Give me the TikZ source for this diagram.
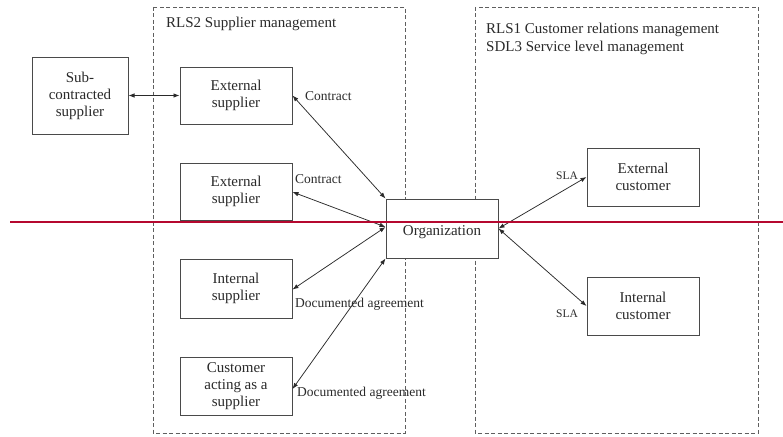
\documentclass[tikz,border=0pt]{standalone}
\usepackage{fontspec}
\setmainfont{Liberation Serif}
\usetikzlibrary{arrows.meta}
\definecolor{ink}{HTML}{2A2A2A}
\definecolor{redline}{HTML}{B5082F}
\begin{document}
\begin{tikzpicture}[x=1pt,y=-1pt,
  box/.style={draw=ink!85, line width=1pt, fill=white, text=ink, align=center, inner sep=0pt,
    font=\fontsize{15}{17}\selectfont},
  grp/.style={draw=ink!75, dashed, dash pattern=on 4pt off 2.5pt, line width=0.9pt},
  lbl/.style={text=ink, inner sep=0pt, font=\fontsize{13.5}{15}\selectfont},
  ttl/.style={text=ink, inner sep=0pt, align=left, anchor=north west, font=\fontsize{15}{18}\selectfont},
  conn/.style={draw=ink, line width=0.75pt, {Latex[length=6pt,width=4.5pt]}-{Latex[length=6pt,width=4.5pt]}}]
\useasboundingbox (0,0) rectangle (783,436);
% group frames
\draw[grp] (153,7) rectangle (405,433);
\draw[grp] (475,7) rectangle (758,433);
\node[ttl] (t1) at (166,17) {RLS2 Supplier management};
\node[ttl] (t2) at (486,23) {RLS1 Customer relations management\\SDL3 Service level management};
% boxes
\node[box, minimum width=96pt, minimum height=77pt] (sub) at (80,95.5) {Sub-\\contracted\\supplier};
\node[box, minimum width=112pt, minimum height=57pt] (es1) at (236,95.5) {External\\supplier};
\node[box, minimum width=112pt, minimum height=57pt] (es2) at (236,191.5) {External\\supplier};
\node[box, minimum width=112pt, minimum height=59pt] (is) at (236,288.5) {Internal\\supplier};
\node[box, minimum width=112pt, minimum height=58pt] (cs) at (236,386) {Customer\\acting as a\\supplier};
\node[box, minimum width=112pt, minimum height=59pt] (org) at (442,228.5) {\raisebox{-3.5pt}[\height][\depth]{Organization}};
\node[box, minimum width=112pt, minimum height=58pt] (ec) at (643,177) {External\\customer};
\node[box, minimum width=112pt, minimum height=58pt] (ic) at (643,306) {Internal\\customer};
% connectors
\draw[conn] (sub.east) -- (es1.west);
\draw[conn] (es1.east) -- (org.north west);
\draw[conn] (es2.east) ++(0,0.5) -- ([yshift=1.5pt]org.west);
\draw[conn] ([yshift=-1pt]is.east) -- ([yshift=1.5pt]org.west);
\draw[conn] ([yshift=-3pt]cs.east) -- (org.south west);
\draw[conn] (org.east) -- (ec.west);
\draw[conn] (org.east) -- (ic.west);
% labels
\node[lbl, anchor=west] (l1) at (305,96) {Contract};
\node[lbl, anchor=west] (l2) at (295,179) {Contract};
\node[lbl, anchor=west] (l3) at (295,304) {Documented agreement};
\node[lbl, anchor=west] (l4) at (297,393) {Documented agreement};
\node[lbl, anchor=west, font=\fontsize{11.5}{13}\selectfont] (l5) at (556,176) {SLA};
\node[lbl, anchor=west, font=\fontsize{11.5}{13}\selectfont] (l6) at (556,314) {SLA};
% red horizontal line
\coordinate (ra) at (10,221.5);
\coordinate (rb) at (783,221.5);
\draw[redline, line width=2pt] (ra) -- (rb);
\end{tikzpicture}
\end{document}
